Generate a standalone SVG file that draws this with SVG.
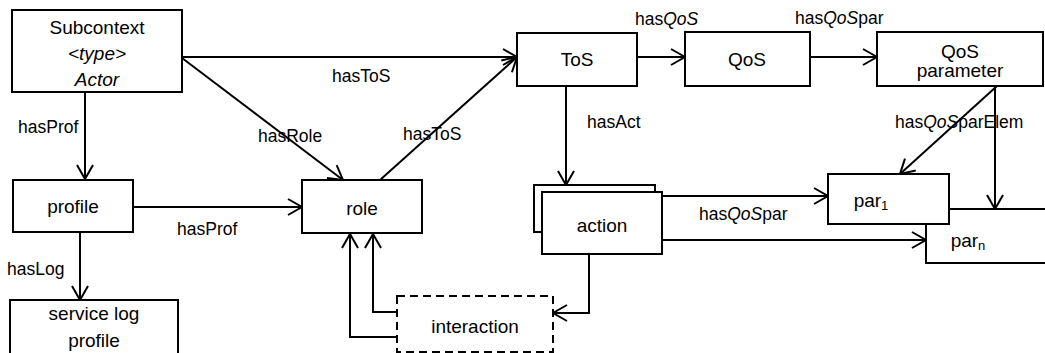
<svg xmlns="http://www.w3.org/2000/svg" width="1045" height="353" viewBox="0 0 1045 353">
  <style>
    .box { fill: #fff; stroke: #000; stroke-width: 2; }
    .dash { fill: #fff; stroke: #000; stroke-width: 2; stroke-dasharray: 8 5; }
    .node { font-family: "Liberation Sans", Arial, sans-serif; font-size: 19px; fill: #000; text-anchor: middle; }
    .lbl { font-family: "Liberation Sans", Arial, sans-serif; font-size: 17.5px; fill: #000; }
    .edge { fill: none; stroke: #000; stroke-width: 2; marker-end: url(#arr); }
  </style>
  <defs>
    <marker id="arr" markerUnits="userSpaceOnUse" markerWidth="20" markerHeight="20" refX="0" refY="0" viewBox="-16 -10 18 20" orient="auto" overflow="visible">
      <path d="M-14,-8 L0,0 L-14,8" fill="none" stroke="#000" stroke-width="2"/>
    </marker>
  </defs>
  <rect width="1045" height="353" fill="#fff"/>

  <!-- connectors -->
  <g id="connectors">
    <line class="edge" x1="85" y1="92" x2="85" y2="179"/>
    <line class="edge" x1="80" y1="232" x2="80" y2="300"/>
    <line class="edge" x1="133" y1="207" x2="302" y2="207"/>
    <line class="edge" x1="182" y1="57" x2="517" y2="57"/>
    <line class="edge" x1="182" y1="58" x2="343" y2="180"/>
    <line class="edge" x1="380" y1="180" x2="517" y2="57"/>
    <line class="edge" x1="637" y1="57" x2="685" y2="57"/>
    <line class="edge" x1="810" y1="57" x2="877" y2="57"/>
    <line class="edge" x1="566" y1="86" x2="566" y2="185"/>
    <line class="edge" x1="997" y1="86" x2="900" y2="174"/>
    <line class="edge" x1="995" y1="86" x2="995" y2="209"/>
    <line class="edge" x1="662" y1="196" x2="828" y2="196"/>
    <line class="edge" x1="662" y1="240" x2="926" y2="240"/>
    <polyline class="edge" points="589,254 589,313 553,313"/>
    <polyline class="edge" points="397,312 373,312 373,234"/>
    <polyline class="edge" points="397,337 350,337 350,234"/>

    <text class="lbl" x="18" y="133">hasProf</text>
    <text class="lbl" x="258" y="142">hasRole</text>
    <text class="lbl" x="332" y="82">hasToS</text>
    <text class="lbl" x="403" y="140">hasToS</text>
    <text class="lbl" x="177" y="235">hasProf</text>
    <text class="lbl" x="7" y="275">hasLog</text>
    <text class="lbl" x="587" y="128">hasAct</text>
    <text class="lbl" x="635" y="25">has<tspan font-style="italic">QoS</tspan></text>
    <text class="lbl" x="795" y="24">has<tspan font-style="italic">QoS</tspan>par</text>
    <text class="lbl" x="895" y="128">has<tspan font-style="italic">QoS</tspan>parElem</text>
    <text class="lbl" x="699" y="220">has<tspan font-style="italic">QoS</tspan>par</text>
  </g>

  <g id="subcontext">
    <rect class="box" x="12" y="10" width="170" height="82"/>
    <text class="node" x="97" y="34">Subcontext</text>
    <text class="node" x="97" y="60" font-style="italic">&lt;type&gt;</text>
    <text class="node" x="97" y="86" font-style="italic">Actor</text>
  </g>

  <g id="profile">
    <rect class="box" x="13" y="180" width="120" height="52"/>
    <text class="node" x="73" y="213">profile</text>
  </g>

  <g id="service-log-profile">
    <rect class="box" x="10" y="300" width="168" height="62"/>
    <text class="node" x="94" y="320">service log</text>
    <text class="node" x="94" y="347">profile</text>
  </g>

  <g id="role">
    <rect class="box" x="302" y="180" width="120" height="53"/>
    <text class="node" x="362" y="215">role</text>
  </g>

  <g id="tos">
    <rect class="box" x="517" y="33" width="120" height="53"/>
    <text class="node" x="577" y="66">ToS</text>
  </g>

  <g id="qos">
    <rect class="box" x="685" y="32" width="125" height="54"/>
    <text class="node" x="747" y="66">QoS</text>
  </g>

  <g id="qos-parameter">
    <rect class="box" x="877" y="32" width="166" height="54"/>
    <text class="node" x="960" y="58">QoS</text>
    <text class="node" x="960" y="77">parameter</text>
  </g>

  <g id="action">
    <rect class="box" x="534" y="185" width="121" height="47"/>
    <rect class="box" x="542" y="192" width="120" height="62"/>
    <text class="node" x="602" y="232">action</text>
  </g>

  <g id="par-n">
    <rect class="box" x="926" y="209" width="130" height="54"/>
    <text class="node" x="968" y="247" text-anchor="start">par<tspan font-size="13" dy="3">n</tspan></text>
  </g>

  <g id="par-1">
    <rect class="box" x="828" y="174" width="121" height="50"/>
    <text class="node" x="871" y="207" text-anchor="start">par<tspan font-size="13" dy="3">1</tspan></text>
  </g>

  <g id="interaction">
    <rect class="dash" x="397" y="296" width="156" height="56"/>
    <text class="node" x="475" y="333">interaction</text>
  </g>
</svg>
